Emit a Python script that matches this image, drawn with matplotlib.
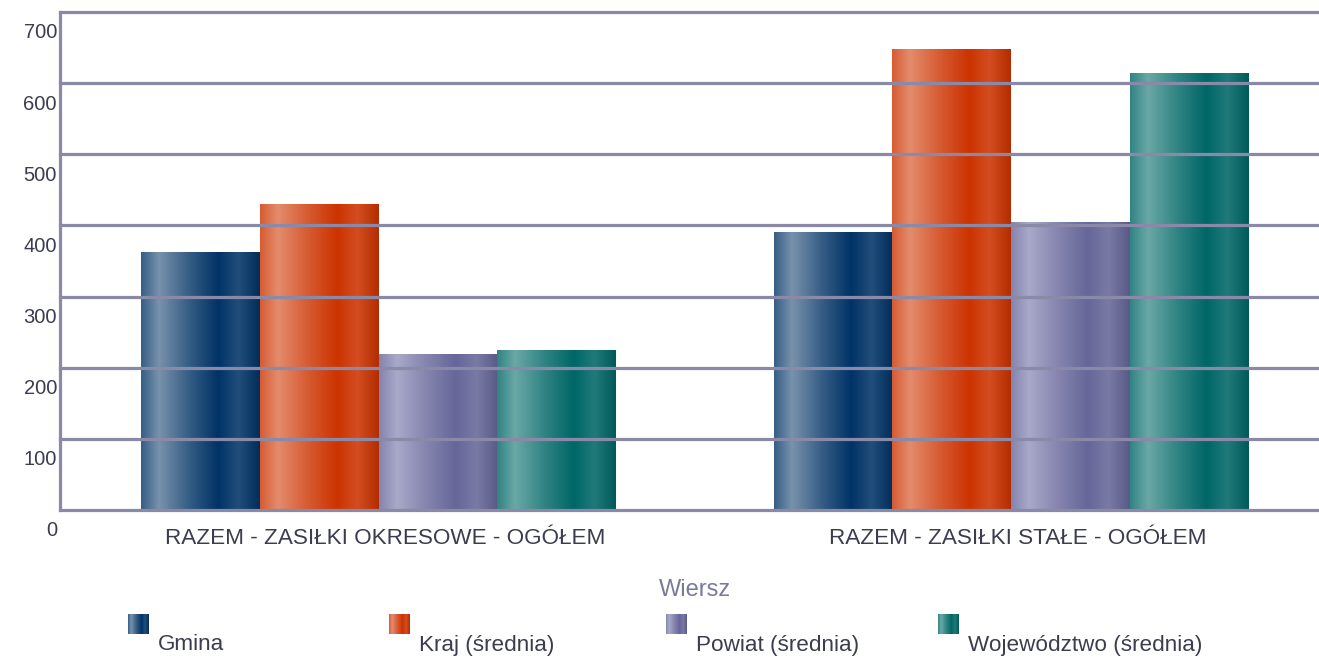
import numpy as np
import matplotlib
matplotlib.use("Agg")
import matplotlib.pyplot as plt
from matplotlib.colors import to_rgb, LinearSegmentedColormap
import matplotlib.transforms as mtransforms

plt.rcParams['font.family'] = ['Liberation Sans', 'DejaVu Sans']

categories = ["RAZEM - ZASIŁKI OKRESOWE - OGÓŁEM", "RAZEM - ZASIŁKI STAŁE - OGÓŁEM"]
series_names = ["Gmina", "Kraj (średnia)", "Powiat (średnia)", "Województwo (średnia)"]
gmina = [362, 390]
kraj = [429, 647]
powiat = [218, 404]
wojewodztwo = [224, 613]
yticks = [0, 100, 200, 300, 400, 500, 600, 700]
legend_title = "Wiersz"

series_values = [gmina, kraj, powiat, wojewodztwo]
base_colors = ["#003366", "#cc3300", "#666699", "#006666"]
high_colors = ["#7892ac", "#e38c6e", "#a9a9c9", "#6aa8a6"]

def mix(c1, c2, t):
    a = np.array(to_rgb(c1)); b = np.array(to_rgb(c2))
    return tuple(a * (1 - t) + b * t)

def make_cmap(base, high):
    stops = [
        (0.0, mix(base, high, 0.45)),
        (0.15, to_rgb(high)),
        (0.40, mix(base, high, 0.45)),
        (0.65, to_rgb(base)),
        (0.82, mix(base, "white", 0.13)),
        (1.0, mix(base, "black", 0.12)),
    ]
    return LinearSegmentedColormap.from_list("g", stops)

fig = plt.figure(figsize=(13.19, 6.57), dpi=100)
ax = fig.add_axes([60 / 1319, 1 - 510 / 657, (1319 - 60) / 1319, (510 - 12) / 657])

x = np.arange(len(categories))
bw = 0.1875
offsets = (np.arange(4) - 1.5) * bw
grad = np.linspace(0, 1, 256).reshape(1, -1)
for i, vals in enumerate(series_values):
    bars = ax.bar(x + offsets[i], vals, width=bw, color="none", edgecolor="none", zorder=1)
    cmap = make_cmap(base_colors[i], high_colors[i])
    for b in bars:
        x0, y0 = b.get_x(), b.get_y()
        w, h = b.get_width(), b.get_height()
        ax.imshow(grad, cmap=cmap, aspect="auto", extent=(x0, x0 + w, y0, y0 + h),
                  zorder=1, interpolation="bilinear")

ax.set_xlim(-0.5036, 1.487)
ax.set_ylim(0, 700)

gridc = "#8a8aa8"
for v in yticks:
    ax.axhline(v, color=gridc, lw=2.3, zorder=3, clip_on=False)
for s in ["top", "right", "bottom"]:
    ax.spines[s].set_visible(False)
ax.spines["left"].set_color(gridc)
ax.spines["left"].set_linewidth(2.3)
ax.spines["left"].set_zorder(4)

ax.set_xticks([])
ax.set_yticks([])
tcol = "#3c3c50"
off = mtransforms.offset_copy(ax.get_yaxis_transform(), fig=fig, x=-3, y=-21, units="dots")
for v in yticks:
    ax.text(0, v, str(v), transform=off, ha="right", va="center", fontsize=14.5, color=tcol)

for xi, c in zip(x, categories):
    ax.text(xi + 0.011, -0.058, c, transform=ax.get_xaxis_transform(), ha="center", va="center",
            fontsize=16.2, color=tcol)

fig.text(695 / 1319, 1 - 590 / 657, legend_title, ha="center", va="center", fontsize=17, color="#7a7a9a")
leg_x = [128, 389, 666, 938]
for i, name in enumerate(series_names):
    lx = leg_x[i]
    ax_l = fig.add_axes([lx / 1319, 1 - 634 / 657, 21 / 1319, 20 / 657])
    ax_l.imshow(grad, cmap=make_cmap(base_colors[i], high_colors[i]), aspect="auto")
    ax_l.axis("off")
    fig.text((lx + 30) / 1319, 1 - 645 / 657, name, ha="left", va="center", fontsize=16.2, color=tcol)

fig.savefig("out.png", dpi=100)
